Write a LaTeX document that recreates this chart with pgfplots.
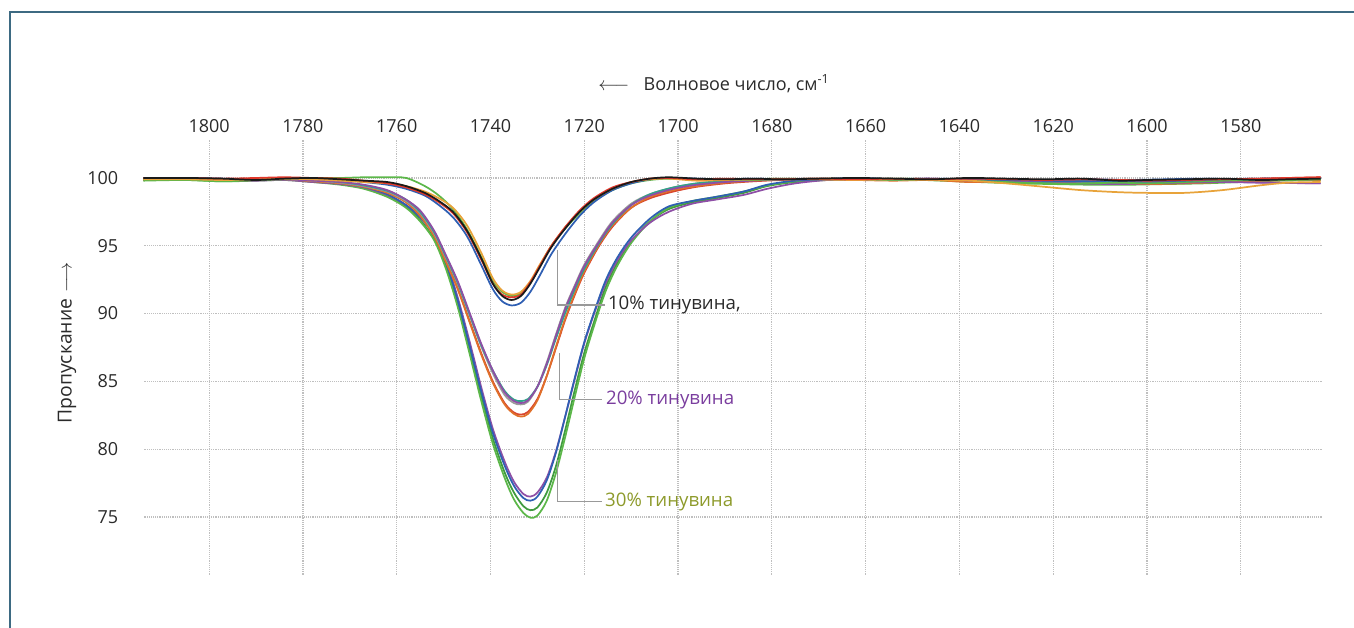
\documentclass[border=0pt]{standalone}
\usepackage{pgfplots}
\usepackage{pgfplotstable}
\pgfplotsset{compat=1.18}
\usepackage{fontspec}
\setmainfont{Open Sans}

\definecolor{frame}{HTML}{3D6A82}
\definecolor{lbl}{HTML}{2A2A2A}
\definecolor{cblack}{HTML}{1A1A1A}
\definecolor{cred}{HTML}{E2382B}
\definecolor{cgold}{HTML}{E8A33A}
\definecolor{cblue}{HTML}{2F5FB3}
\definecolor{cgreen}{HTML}{5CB749}
\definecolor{cpurple}{HTML}{8E4FA6}
\definecolor{cteal}{HTML}{2FA58A}
\definecolor{cgray}{HTML}{9A9A9A}
\definecolor{corange}{HTML}{E0702A}
\definecolor{cred2}{HTML}{D8452E}
\definecolor{cdgreen}{HTML}{3F9A3F}
\definecolor{tpurple}{HTML}{7A3D9E}
\definecolor{tolive}{HTML}{8D9A2B}

% 10% group
\pgfplotstableread{
w      k      r      o      b      g
1814 100.0 100.0 99.9 100.0 99.85
1805 100.0 100.0 99.9 100.0 99.85
1797 99.95 99.95 99.85 99.95 99.75
1790 99.85 100.0 99.9 99.9 99.85
1784 99.95 100.05 99.95 99.95 99.9
1778 100.0 100.0 99.9 99.95 100.0
1772 99.9 99.95 99.8 99.85 100.0
1767 99.8 99.8 99.7 99.7 100.05
1762 99.7 99.6 99.6 99.5 100.05
1758 99.4 99.3 99.4 99.2 100.0
1754 98.9 98.8 99.0 98.7 99.4
1751 98.3 98.2 98.5 98.0 98.7
1748 97.5 97.4 97.8 97.1 97.7
1745 96.1 96.0 96.5 95.7 96.2
1742 94.1 94.0 94.5 93.6 94.2
1739.5 92.2 92.2 92.6 91.8 92.4
1737.5 91.3 91.4 91.7 90.9 91.6
1735.5 91.0 91.2 91.4 90.6 91.3
1733.5 91.3 91.4 91.6 90.8 91.5
1731.5 92.2 92.3 92.4 91.6 92.3
1729.5 93.4 93.5 93.6 92.8 93.5
1727 94.9 95.0 95.0 94.4 95.0
1724 96.3 96.4 96.4 95.9 96.3
1721 97.5 97.6 97.5 97.2 97.4
1718 98.4 98.5 98.4 98.2 98.3
1714 99.2 99.3 99.2 99.1 99.1
1710 99.7 99.7 99.7 99.6 99.6
1706 99.95 99.95 99.9 99.9 99.85
1702 100.05 100.0 99.95 100.0 99.95
1696 99.95 99.9 99.8 99.95 99.9
1690 99.9 99.95 99.85 99.9 99.9
1684 99.95 99.9 99.9 99.95 99.85
1678 99.9 99.9 99.95 99.9 99.9
1670 99.95 99.95 99.9 99.9 99.95
1662 100.0 99.9 99.85 100.0 99.9
1654 99.95 99.95 99.9 99.9 99.85
1646 99.9 99.9 99.85 99.95 99.9
1638 100.0 99.95 99.8 99.9 99.9
1630 99.95 99.9 99.6 99.85 99.7
1622 99.9 99.85 99.35 99.8 99.6
1614 99.95 99.9 99.1 99.75 99.6
1606 99.8 99.85 98.95 99.8 99.65
1600 99.85 99.8 98.9 99.75 99.6
1592 99.9 99.85 98.9 99.8 99.7
1584 99.95 99.9 99.1 99.9 99.8
1576 99.85 99.95 99.45 99.95 99.9
1570 99.9 100.0 99.65 99.95 99.85
1563 99.95 100.05 99.7 100.0 99.9
}\tten

% 20% group
\pgfplotstableread{
w p t y o r
1814 99.9 99.95 99.9 99.85 99.9
1805 99.95 99.9 99.95 99.9 99.95
1797 99.9 99.85 99.9 99.8 99.85
1790 99.85 99.9 99.85 99.85 99.9
1784 99.9 99.95 99.9 99.9 99.95
1778 99.8 99.85 99.8 99.75 99.8
1772 99.7 99.7 99.65 99.6 99.65
1767 99.5 99.45 99.4 99.35 99.4
1762 99.1 99.05 99.0 98.9 99.0
1758 98.4 98.4 98.3 98.2 98.3
1755 97.6 97.5 97.4 97.2 97.3
1752 96.1 96.0 95.9 95.7 95.8
1749.5 94.3 94.2 94.1 93.8 93.9
1747 92.4 92.3 92.2 91.8 91.9
1744.5 90.1 90.0 89.9 89.4 89.5
1742 87.8 87.7 87.6 87.0 87.1
1739.5 85.8 85.8 85.6 84.9 85.0
1737 84.2 84.3 84.0 83.3 83.4
1735 83.55 83.65 83.4 82.6 82.7
1733.5 83.4 83.55 83.3 82.4 82.55
1732 83.6 83.7 83.5 82.6 82.75
1730 84.6 84.6 84.6 83.6 83.7
1728 86.3 86.2 86.4 85.4 85.4
1726 88.4 88.2 88.5 87.6 87.5
1724 90.4 90.1 90.5 89.7 89.6
1722 92.0 91.8 92.1 91.5 91.4
1720 93.5 93.3 93.6 93.1 93.0
1717 95.2 95.1 95.3 95.0 94.9
1714 96.7 96.6 96.8 96.5 96.4
1710 98.0 98.0 98.1 97.8 97.8
1706 98.7 98.8 98.8 98.6 98.5
1701 99.2 99.3 99.3 99.1 99.0
1696 99.5 99.6 99.6 99.4 99.35
1690 99.7 99.8 99.75 99.65 99.6
1684 99.8 99.9 99.85 99.8 99.75
1678 99.9 99.95 99.9 99.9 99.85
1670 99.95 99.9 99.95 99.9 99.95
1662 99.85 99.9 99.9 99.85 99.9
1654 99.9 99.95 99.85 99.8 99.9
1646 99.95 99.9 99.9 99.85 99.95
1638 99.8 99.85 99.9 99.7 99.85
1630 99.7 99.8 99.8 99.75 99.9
1622 99.75 99.7 99.75 99.7 99.85
1614 99.6 99.75 99.7 99.65 99.8
1606 99.55 99.7 99.75 99.6 99.85
1600 99.6 99.65 99.7 99.55 99.8
1592 99.65 99.7 99.8 99.6 99.85
1584 99.7 99.8 99.85 99.7 99.9
1576 99.65 99.85 99.9 99.8 99.95
1563 99.6 99.9 99.95 99.85 100.05
}\ttwenty

% 30% group
\pgfplotstableread{
w b p g d
1814 99.85 99.9 99.8 99.85
1805 99.9 99.95 99.85 99.9
1797 99.8 99.85 99.75 99.8
1790 99.85 99.8 99.8 99.85
1784 99.9 99.85 99.85 99.9
1778 99.75 99.7 99.7 99.75
1772 99.6 99.55 99.5 99.55
1767 99.35 99.3 99.2 99.25
1762 98.8 98.75 98.6 98.7
1758 98.0 98.0 97.8 97.9
1755 97.1 97.1 96.8 96.9
1752 95.8 95.8 95.4 95.5
1749.5 93.8 93.9 93.3 93.5
1747 91.0 91.2 90.5 90.7
1744.5 87.7 88.0 87.1 87.4
1742 84.3 84.6 83.6 84.0
1739.5 81.2 81.5 80.4 80.8
1737 78.8 79.1 77.9 78.3
1735 77.3 77.6 76.3 76.8
1733 76.4 76.7 75.3 75.8
1731.5 76.2 76.5 74.95 75.5
1730 76.5 76.8 75.1 75.7
1728 77.7 77.9 76.2 76.8
1726 79.8 79.9 78.3 78.8
1724 82.5 82.5 81.0 81.5
1722 85.3 85.2 83.9 84.4
1720 87.9 87.8 86.7 87.1
1718 90.0 89.9 89.0 89.3
1715.5 92.4 92.2 91.6 91.9
1713 94.1 93.9 93.5 93.7
1710 95.6 95.4 95.2 95.3
1706 97.0 96.7 96.8 96.8
1702 97.9 97.5 97.8 97.7
1697 98.3 98.1 98.3 98.2
1692 98.6 98.4 98.6 98.5
1686 99.0 98.75 99.0 98.9
1681 99.5 99.2 99.45 99.4
1675 99.8 99.6 99.75 99.7
1668 99.9 99.85 99.9 99.85
1660 99.95 99.9 99.85 99.9
1652 99.9 99.85 99.9 99.95
1644 99.85 99.9 99.8 99.9
1636 99.9 99.85 99.7 99.85
1628 99.8 99.8 99.6 99.8
1620 99.85 99.75 99.55 99.75
1612 99.9 99.7 99.5 99.8
1604 99.85 99.65 99.5 99.75
1596 99.9 99.7 99.55 99.8
1588 99.95 99.75 99.6 99.85
1580 99.9 99.7 99.7 99.9
1572 99.95 99.65 99.8 99.9
1563 100.0 99.6 99.85 99.95
}\tthirty

\begin{document}
\begin{tikzpicture}
\path[use as bounding box] (0,0) rectangle (1015.5pt,471pt);
\draw[frame, line width=1.5pt] (7.5pt,0pt) -- (7.5pt,462pt) -- (1015.5pt,462pt);
\node[font=\fontsize{13.5}{16}\selectfont, text=lbl] at (535.5pt,408pt) {$\longleftarrow$\hspace{0.8em}Волновое число, см\textsuperscript{-1}};
\node[font=\fontsize{14.5}{16}\selectfont, text=lbl, rotate=90] at (50.25pt,214pt) {Пропускание\hspace{0.3em}$\longrightarrow$};
\begin{axis}[
  at={(107.25pt,39.75pt)}, anchor=south west,
  scale only axis, width=884.25pt, height=326.25pt,
  x dir=reverse,
  xmin=1562.7, xmax=1814.1, ymin=70.72, ymax=102.8,
  xtick={1580,1600,...,1800}, ytick={75,80,...,100},
  xticklabel pos=upper,
  axis line style={draw=none},
  major tick length=0pt,
  grid=major,
  grid style={gray!50, densely dotted, line width=0.9pt},
  tick label style={font=\fontsize{13.5}{16}\selectfont, text=lbl},
  /pgf/number format/assume math mode=true,
  /pgf/number format/1000 sep={},
  xticklabel style={yshift=2pt},
  yticklabel style={xshift=-15pt},
  every axis plot/.append style={line width=1.3pt, smooth, tension=0.5, no markers},
]
\addplot[cdgreen] table[x=w,y=d]{\tthirty};
\addplot[cgreen] table[x=w,y=g]{\tthirty};
\addplot[cpurple] table[x=w,y=p]{\tthirty};
\addplot[cblue] table[x=w,y=b]{\tthirty};
\addplot[cred2] table[x=w,y=r]{\ttwenty};
\addplot[corange] table[x=w,y=o]{\ttwenty};
\addplot[cgray] table[x=w,y=y]{\ttwenty};
\addplot[cteal] table[x=w,y=t]{\ttwenty};
\addplot[cpurple] table[x=w,y=p]{\ttwenty};
\addplot[cgreen] table[x=w,y=g]{\tten};
\addplot[cblue] table[x=w,y=b]{\tten};
\addplot[cgold] table[x=w,y=o]{\tten};
\addplot[cred] table[x=w,y=r]{\tten};
\addplot[cblack] table[x=w,y=k]{\tten};
% annotations
\draw[gray!80, line width=0.8pt] (axis cs:1725.8,94.69) -- (axis cs:1725.8,90.63) -- (axis cs:1715.6,90.63);
\node[anchor=west, inner sep=0pt, font=\fontsize{14}{16}\selectfont, text=lbl] at (axis cs:1715.0,90.63) {10\% тинувина,};
\draw[gray!80, line width=0.8pt] (axis cs:1725.2,87.09) -- (axis cs:1725.2,83.63) -- (axis cs:1716.2,83.63);
\node[anchor=west, inner sep=0pt, font=\fontsize{14}{16}\selectfont, text=tpurple] at (axis cs:1715.4,83.6) {20\% тинувина};
\draw[gray!80, line width=0.8pt] (axis cs:1725.8,79.2) -- (axis cs:1725.8,76.11) -- (axis cs:1716.2,76.11);
\node[anchor=west, inner sep=0pt, font=\fontsize{14}{16}\selectfont, text=tolive] at (axis cs:1715.6,76.11) {30\% тинувина};
\end{axis}
\end{tikzpicture}
\end{document}
